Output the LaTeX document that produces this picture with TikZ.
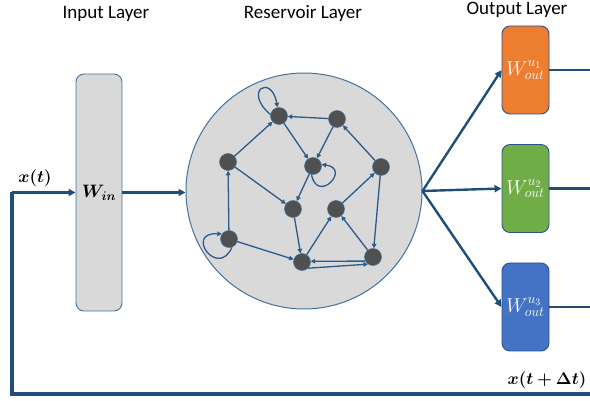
\RequirePackage{fix-cm}
\documentclass[tikz,border=0pt]{standalone}
\usepackage{fontspec}
\setmainfont{Carlito}
\usepackage{bm}
\usetikzlibrary{arrows.meta}

\definecolor{flow}{HTML}{1F4E79}
\definecolor{edgeblue}{HTML}{2B5A8C}
\definecolor{panel}{HTML}{D9D9D9}
\definecolor{rim}{HTML}{41719C}
\definecolor{boxrim}{HTML}{2F528F}
\definecolor{cellgray}{HTML}{505050}
\definecolor{outA}{HTML}{ED7D31}
\definecolor{outB}{HTML}{70AD47}
\definecolor{outC}{HTML}{4472C4}

\tikzset{
  layerlabel/.style={font=\fontsize{19}{22}\selectfont, anchor=base, inner sep=0},
  mathlabel/.style={font=\fontsize{17}{20}\selectfont, inner sep=0},
  panelbox/.style={draw=rim, fill=panel, rounded corners=8pt, line width=0.9pt,
    minimum width=46pt, minimum height=237pt, inner sep=0,
    font=\fontsize{18}{21}\selectfont},
  outbox/.style={draw=boxrim, rounded corners=8pt, line width=0.9pt,
    minimum width=47pt, minimum height=88pt, inner sep=0, text=white,
    font=\fontsize{20}{24}\selectfont},
  cell/.style={circle, fill=cellgray, draw=rim, line width=0.5pt,
    minimum size=17pt, inner sep=0},
  flowline/.style={draw=flow, line width=2.4pt},
  flowarrow/.style={flowline, -{Triangle[length=7pt,width=7pt]}},
  link/.style={draw=edgeblue, line width=1.3pt, -{Triangle[length=4.5pt,width=4.5pt]}}
}

\begin{document}
\begin{tikzpicture}[x=1pt,y=-1pt]
\useasboundingbox (0,0) rectangle (590,401);

% layer titles
\node[layerlabel] (tin)  at (106,19) {Input Layer};
\node[layerlabel] (tres) at (303,19) {Reservoir Layer};
\node[layerlabel] (tout) at (517,15) {Output Layer};

% input layer
\node[panelbox] (win) at (99,192.5) {$\bm{W_{in}}$};

% reservoir
\node[circle, draw=rim, fill=panel, line width=1pt, minimum size=236pt, inner sep=0] (res) at (304,191) {};

% output layer
\node[outbox, fill=outA] (o1) at (525.5,70)    {$W_{out}^{u_1}$};
\node[outbox, fill=outB] (o2) at (525.5,188.5) {$W_{out}^{u_2}$};
\node[outbox, fill=outC] (o3) at (525.5,307)   {$W_{out}^{u_3}$};

% free ends at the right margin and the feedback corner
\coordinate (e1) at (590,70);
\coordinate (e2) at (590,188.5);
\coordinate (e3) at (590,307);
\coordinate (fbR) at (590,394);
\coordinate (fbL) at (12,394);

% main flow
\draw[flowline, line width=3.4pt] (fbR) -- (fbL) -- (fbL |- win.west);
\draw[flowarrow] (fbL |- win.west) -- (win.west);
\draw[flowarrow] (win.east) -- (win.east -| res.west);
\draw[flowarrow] (res.east) -- (o1.west);
\draw[flowarrow] (res.east) -- (o2.west);
\draw[flowarrow] (res.east) -- (o3.west);
\draw[flowline] (o1.east) -- (e1);
\draw[flowline] (o2.east) -- (e2);
\draw[flowline] (o3.east) -- (e3);

% signal labels
\node[mathlabel] (xt)  at (35,178)  {$\bm{x(t)}$};
\node[mathlabel] (xtd) at (547,380) {$\bm{x(t+\Delta t)}$};

% reservoir cells
\node[cell] (n1)  at (279,116) {};
\node[cell] (n2)  at (337,119) {};
\node[cell] (n3)  at (228,162) {};
\node[cell] (n4)  at (313,166) {};
\node[cell] (n5)  at (381,167) {};
\node[cell] (n6)  at (293,209) {};
\node[cell] (n7)  at (336,209) {};
\node[cell] (n8)  at (229,239) {};
\node[cell] (n9)  at (302,262) {};
\node[cell] (n10) at (373,257) {};

% reservoir connections
\draw[link] (n2) -- (n1);
\draw[link] (n3) -- (n1);
\draw[link] (n1) -- (n4);
\draw[link] (n2) -- (n4);
\draw[link] (n5) -- (n2);
\draw[link] (n3) -- (n6);
\draw[link] (n4) -- (n6);
\draw[link] (n8) -- (n3);
\draw[link] (n8) -- (n9);
\draw[link] (n6) -- (n9);
\draw[link] (n9) -- (n7);
\draw[link] (n7) -- (n5);
\draw[link] (n5) -- (n10);
\draw[link] (n10) -- (n7);
\draw[link] (n10.208) -- (n9.5);
\draw[link] (n9.-45) -- (n10.235);

% self loops
\draw[link] (n1.170) .. controls +(-28,-24) and +(-6,-34) .. (n1.100);
\draw[link] (n4.-100) .. controls +(6,30) and +(30,4) .. (n4.10);
\draw[link] (n8.-70) .. controls +(-14,32) and +(-38,-2) .. (n8.145);
\end{tikzpicture}
\end{document}
